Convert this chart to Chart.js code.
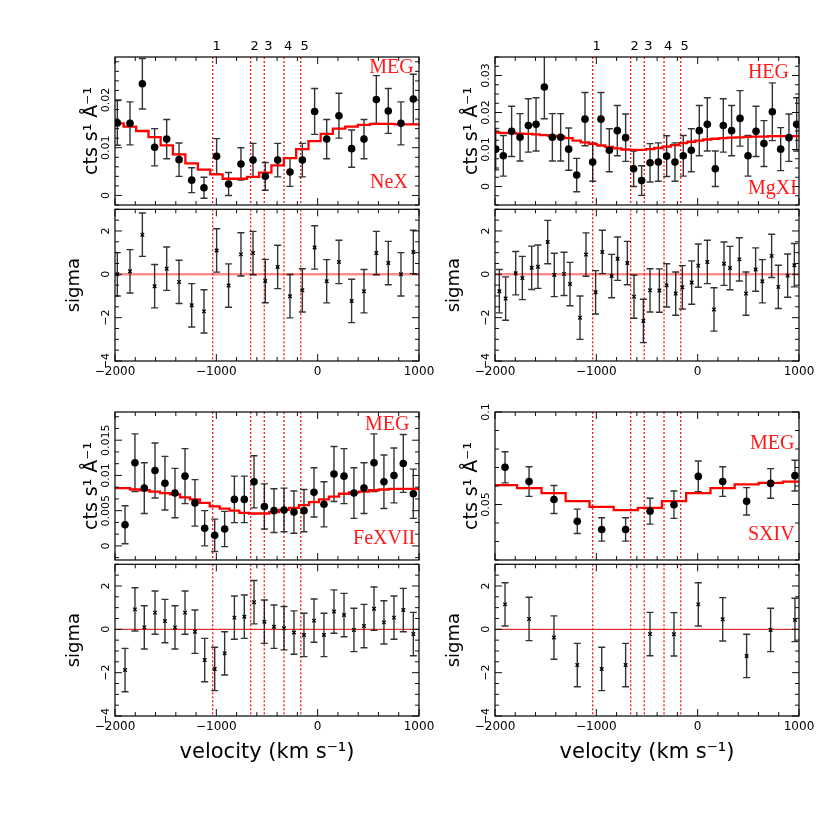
<!DOCTYPE html>
<html>
<head>
<meta charset="utf-8">
<script src="https://cdn.jsdelivr.net/npm/chart.js@4.4.1/dist/chart.umd.min.js"></script>
<style>
  html, body { margin: 0; padding: 0; background: #fff; }
  #wrap { position: relative; width: 830px; height: 830px; }
  #wrap canvas { position: absolute; }
</style>
</head>
<body>
<div id="wrap"></div>
<script>
// absorption components (km/s) and their labels
const lineVel = [-1036, -661, -527, -332, -167]
const lineLabels = ['1', '2', '3', '4', '5']

const velTicks = [-2000, -1000, 0, 1000]
const sigmaTicks = [-4, -2, 0, 2]

// Ne X, MEG
const neVel = [-1977, -1852, -1730, -1609, -1490, -1368, -1243, -1122, -997, -879, -757, -638, -517, -395, -273, -151, -30, 89, 210, 335, 457, 579, 697, 822, 944]
const neFlux = [0.0152, 0.0151, 0.0234, 0.0101, 0.0118, 0.0075, 0.0032, 0.0016, 0.0082, 0.0024, 0.0066, 0.0074, 0.0040, 0.0074, 0.0049, 0.0074, 0.0176, 0.0118, 0.0167, 0.0098, 0.0118, 0.0201, 0.0177, 0.0151, 0.0202]
const neErr = [0.0047, 0.0045, 0.0053, 0.0039, 0.0041, 0.0035, 0.0026, 0.0022, 0.0037, 0.0024, 0.0034, 0.0035, 0.0029, 0.0035, 0.0030, 0.0035, 0.0048, 0.0041, 0.0047, 0.0039, 0.0041, 0.0050, 0.0047, 0.0045, 0.0052]
const neModel = [0.0151, 0.0144, 0.0135, 0.0122, 0.0105, 0.0086, 0.0067, 0.0054, 0.0044, 0.0035, 0.0035, 0.0039, 0.0048, 0.0063, 0.0078, 0.0097, 0.0114, 0.0129, 0.0140, 0.0144, 0.0148, 0.0150, 0.0150, 0.0149, 0.0149]
const neSigma = [0.0, 0.14, 1.83, -0.55, 0.26, -0.35, -1.43, -1.71, 1.10, -0.52, 0.92, 0.98, -0.31, 0.34, -1.01, -0.74, 1.24, -0.32, 0.57, -1.23, -0.78, 0.98, 0.52, 0.0, 1.03]
const neTicks = [0, 0.01, 0.02]

// Mg XI, HEG
const mgVel = [-1993, -1918, -1836, -1753, -1671, -1595, -1513, -1434, -1352, -1273, -1194, -1112, -1036, -954, -872, -793, -711, -632, -553, -470, -388, -306, -224, -142, -63, 16, 95, 174, 253, 335, 418, 497, 576, 654, 737, 819, 901, 977]
const mgFlux = [0.0101, 0.0083, 0.0149, 0.0133, 0.0165, 0.0168, 0.0269, 0.0133, 0.0133, 0.0101, 0.0031, 0.0182, 0.0066, 0.0182, 0.0098, 0.0151, 0.0132, 0.0048, 0.0016, 0.0064, 0.0066, 0.0082, 0.0066, 0.0083, 0.0098, 0.0151, 0.0168, 0.0048, 0.0165, 0.0151, 0.0184, 0.0083, 0.0149, 0.0116, 0.0202, 0.0101, 0.0132, 0.0168]
const mgErr = [0.0056, 0.0055, 0.0068, 0.0064, 0.0072, 0.0072, 0.0086, 0.0064, 0.0064, 0.0057, 0.0045, 0.0072, 0.0052, 0.0072, 0.0058, 0.0068, 0.0064, 0.0048, 0.0040, 0.0052, 0.0052, 0.0055, 0.0052, 0.0055, 0.0058, 0.0068, 0.0072, 0.0048, 0.0072, 0.0068, 0.0075, 0.0055, 0.0068, 0.0062, 0.0078, 0.0058, 0.0064, 0.0072]
const mgModel = [0.0146, 0.0145, 0.0144, 0.0143, 0.0142, 0.0141, 0.0139, 0.0137, 0.0135, 0.0131, 0.0124, 0.0119, 0.0115, 0.0111, 0.0107, 0.0103, 0.0100, 0.0099, 0.0099, 0.0101, 0.0104, 0.0108, 0.0112, 0.0117, 0.0121, 0.0124, 0.0127, 0.0129, 0.0131, 0.0132, 0.0133, 0.0134, 0.0135, 0.0135, 0.0136, 0.0136, 0.0136, 0.0136]
const mgResVel = [-1957, -1895, -1796, -1730, -1638, -1576, -1480, -1415, -1319, -1260, -1161, -1102, -1007, -941, -849, -790, -694, -628, -536, -470, -378, -306, -217, -151, -59, 6, 95, 161, 260, 319, 411, 477, 572, 638, 730, 796, 888, 954]
const mgSigma = [-0.78, -1.12, 0.05, -0.17, 0.30, 0.35, 1.49, -0.03, 0.02, -0.45, -2.0, 0.91, -0.83, 1.03, -0.08, 0.72, 0.52, -1.03, -2.15, -0.74, -0.75, -0.51, -0.89, -0.60, -0.38, 0.40, 0.57, -1.62, 0.49, 0.29, 0.69, -0.89, 0.22, -0.32, 0.85, -0.58, -0.06, 0.42]
const mgTicks = [0, 0.01, 0.02, 0.03]

// Fe XVII, MEG
const feVel = [-1901, -1803, -1711, -1605, -1507, -1408, -1309, -1211, -1115, -1016, -918, -822, -724, -628, -526, -431, -332, -234, -135, -36, 62, 161, 260, 358, 457, 556, 654, 753, 845, 944]
const feFlux = [0.0030, 0.0118, 0.0082, 0.0107, 0.0089, 0.0075, 0.0099, 0.0061, 0.0025, 0.0015, 0.0024, 0.0066, 0.0066, 0.0091, 0.0056, 0.0050, 0.0051, 0.0048, 0.0050, 0.0076, 0.0059, 0.0102, 0.0099, 0.0075, 0.0082, 0.0118, 0.0091, 0.0100, 0.0117, 0.0074]
const feErr = [0.0027, 0.0041, 0.0036, 0.0039, 0.0038, 0.0035, 0.0039, 0.0033, 0.0025, 0.0023, 0.0025, 0.0033, 0.0033, 0.0037, 0.0032, 0.0031, 0.0031, 0.0030, 0.0030, 0.0035, 0.0032, 0.0039, 0.0039, 0.0036, 0.0036, 0.0041, 0.0038, 0.0039, 0.0041, 0.0035]
const feModel = [0.0082, 0.0080, 0.0079, 0.0077, 0.0075, 0.0073, 0.0069, 0.0066, 0.0061, 0.0056, 0.0053, 0.0050, 0.0047, 0.0046, 0.0046, 0.0048, 0.0051, 0.0054, 0.0058, 0.0062, 0.0066, 0.0070, 0.0074, 0.0076, 0.0077, 0.0079, 0.0080, 0.0081, 0.0081, 0.0081]
const feSigma = [-1.88, 0.92, 0.09, 0.77, 0.38, 0.09, 0.77, -0.11, -1.42, -1.83, -1.11, 0.54, 0.58, 1.25, 0.35, 0.12, 0.05, -0.15, -0.26, 0.40, -0.26, 0.82, 0.66, -0.03, 0.15, 0.95, 0.32, 0.54, 0.89, -0.22]
const feTicks = [0, 0.005, 0.01, 0.015]

// S XIV, MEG
const sVel = [-1901, -1664, -1418, -1188, -947, -711, -470, -234, 6, 247, 483, 720, 960]
const sFlux = [0.0701, 0.0624, 0.0527, 0.0409, 0.0365, 0.0365, 0.0464, 0.0499, 0.0652, 0.0624, 0.0517, 0.0614, 0.0656]
const sErr = [0.0084, 0.0080, 0.0076, 0.0066, 0.0063, 0.0063, 0.0070, 0.0074, 0.0083, 0.0080, 0.0074, 0.0080, 0.0083]
const sModel = [0.0605, 0.0588, 0.0562, 0.0518, 0.0487, 0.0470, 0.0482, 0.0518, 0.0562, 0.0588, 0.0609, 0.0617, 0.0624]
const sSigma = [1.15, 0.48, -0.38, -1.65, -1.83, -1.65, -0.22, -0.23, 1.15, 0.46, -1.23, -0.03, 0.43]
const sTicks = [0.05, 0.1]

// layout (px)
const AX = 60, PW = 304, PH = 152, PR = 25
const COL_LEFT = [115, 495]
const ROW_TOP = [57, 412]
const SANS = "'DejaVu Sans', sans-serif"
const SERIF = "'Liberation Serif', 'DejaVu Serif', serif"
const VMIN = -2000, VMAX = 1000

const panels = [
  { col: 0, row: 0, vel: neVel, flux: neFlux, err: neErr, model: neModel, resVel: neVel, sigma: neSigma,
    yMin: -0.002, yMax: 0.029, yTicks: neTicks, yMinor: 0.002,
    tags: [['MEG', 0.836, 0.072], ['NeX', 0.839, 0.849]] },
  { col: 1, row: 0, vel: mgVel, flux: mgFlux, err: mgErr, model: mgModel, resVel: mgResVel, sigma: mgSigma,
    yMin: -0.005, yMax: 0.035, yTicks: mgTicks, yMinor: 0.0025,
    tags: [['HEG', 0.832, 0.105], ['MgXI', 0.832, 0.888]] },
  { col: 0, row: 1, vel: feVel, flux: feFlux, err: feErr, model: feModel, resVel: feVel, sigma: feSigma,
    yMin: -0.002, yMax: 0.019, yTicks: feTicks, yMinor: 0.005 / 3,
    tags: [['MEG', 0.822, 0.086], ['FeXVII', 0.783, 0.855]] },
  { col: 1, row: 1, vel: sVel, flux: sFlux, err: sErr, model: sModel, resVel: sVel, sigma: sSigma,
    yMin: 0.02, yMax: 0.1, yTicks: sTicks, yMinor: 0.01,
    tags: [['MEG', 0.839, 0.217], ['SXIV', 0.832, 0.829]] }
]

const fmt = v => String(v).replace('-', '\u2212')

// inward ticks on all four sides, like the old plotting package
function drawTicks(ctx, a, scale, majors, step, horizontal) {
  const n0 = Math.ceil(scale.min / step - 1e-6)
  const n1 = Math.floor(scale.max / step + 1e-6)
  ctx.beginPath()
  for (let n = n0; n <= n1; n++) {
    const v = n * step
    const major = majors.some(m => Math.abs(m - v) < step * 1e-3)
    const len = major ? 7 : 4
    const p = scale.getPixelForValue(v)
    if (horizontal) {
      ctx.moveTo(p, a.bottom); ctx.lineTo(p, a.bottom - len)
      ctx.moveTo(p, a.top); ctx.lineTo(p, a.top + len)
    } else {
      ctx.moveTo(a.left, p); ctx.lineTo(a.left + len, p)
      ctx.moveTo(a.right, p); ctx.lineTo(a.right - len, p)
    }
  }
  ctx.stroke()
}

function pgPlugin(cfg) {
  return {
    id: 'pg',
    beforeDatasetsDraw(chart) {
      const { ctx, chartArea: a, scales: { x, y } } = chart
      ctx.save()
      ctx.beginPath()
      ctx.rect(a.left, a.top, a.right - a.left, a.bottom - a.top)
      ctx.clip()

      if (cfg.zero) {
        const py = y.getPixelForValue(0)
        ctx.strokeStyle = cfg.zero.color
        ctx.lineWidth = cfg.zero.width
        ctx.beginPath(); ctx.moveTo(a.left, py); ctx.lineTo(a.right, py); ctx.stroke()
      }

      // dotted component markers
      ctx.strokeStyle = 'rgba(255,0,0,0.95)'
      ctx.lineWidth = 1.3
      ctx.setLineDash([2, 2])
      lineVel.forEach(v => {
        const px = x.getPixelForValue(v)
        ctx.beginPath(); ctx.moveTo(px, a.top); ctx.lineTo(px, a.bottom); ctx.stroke()
      })
      ctx.setLineDash([])

      // error bars
      ctx.strokeStyle = 'rgba(0,0,0,0.8)'
      ctx.lineWidth = 1.4
      chart.data.datasets.forEach(ds => {
        if (!ds.errors && !ds.errConst) return
        ds.data.forEach((p, j) => {
          const e = ds.errors ? ds.errors[j] : ds.errConst
          const px = x.getPixelForValue(p.x)
          const t = y.getPixelForValue(p.y + e)
          const b = y.getPixelForValue(p.y - e)
          ctx.beginPath()
          ctx.moveTo(px, t); ctx.lineTo(px, b)
          ctx.moveTo(px - 3.5, t); ctx.lineTo(px + 3.5, t)
          ctx.moveTo(px - 3.5, b); ctx.lineTo(px + 3.5, b)
          ctx.stroke()
        })
      })
      ctx.restore()
    },
    afterDraw(chart) {
      const { ctx, chartArea: a, scales: { x, y } } = chart
      ctx.save()
      ctx.strokeStyle = '#111'
      ctx.lineWidth = 1
      drawTicks(ctx, a, x, velTicks, 200, true)
      drawTicks(ctx, a, y, cfg.yTicks, cfg.yMinor, false)
      ctx.lineWidth = 1.2
      ctx.strokeStyle = '#000'
      ctx.strokeRect(a.left, a.top, a.right - a.left, a.bottom - a.top)

      // rotated y tick labels
      ctx.fillStyle = '#000'
      ctx.font = '11px ' + SANS
      ctx.textAlign = 'center'
      ctx.textBaseline = 'middle'
      cfg.yTicks.forEach(v => {
        ctx.save()
        ctx.translate(a.left - 9, y.getPixelForValue(v))
        ctx.rotate(-Math.PI / 2)
        ctx.fillText(fmt(v), 0, 0)
        ctx.restore()
      })

      if (cfg.numbers) {
        ctx.font = '13px ' + SANS
        lineVel.forEach((v, i) => {
          ctx.fillText(lineLabels[i], x.getPixelForValue(v) + 4, a.top - 10)
        })
      }

      if (cfg.tags) {
        ctx.beginPath()
        ctx.rect(a.left, a.top, a.right - a.left, a.bottom - a.top)
        ctx.clip()
        ctx.fillStyle = '#ff1a1a'
        ctx.font = '20px ' + SERIF
        ctx.textAlign = 'left'
        cfg.tags.forEach(([t, fx, fy]) => {
          ctx.fillText(t, a.left + fx * (a.right - a.left), a.top + fy * (a.bottom - a.top))
        })
      }
      ctx.restore()
    }
  }
}

function addChart(box) {
  const c = document.createElement('canvas')
  c.width = AX + PW + PR
  c.height = box.padTop + PH + box.xH
  c.style.left = (box.left - AX) + 'px'
  c.style.top = (box.top - box.padTop) + 'px'
  document.getElementById('wrap').appendChild(c)

  new Chart(c, {
    type: 'scatter',
    data: { datasets: box.datasets },
    options: {
      responsive: false,
      animation: false,
      devicePixelRatio: 1,
      events: [],
      layout: { padding: { top: box.padTop, right: PR, bottom: 0, left: 0 } },
      plugins: { legend: { display: false }, tooltip: { enabled: false } },
      scales: {
        x: {
          type: 'linear', min: VMIN, max: VMAX,
          grid: { display: false, drawTicks: false },
          border: { display: false },
          afterBuildTicks: s => { s.ticks = velTicks.map(v => ({ value: v })) },
          ticks: {
            display: box.xLabels, padding: 4, maxRotation: 0, autoSkip: false,
            color: '#000', font: { family: SANS, size: 12 }, callback: v => fmt(v)
          },
          title: {
            display: box.xTitle, text: 'velocity (km s\u207B\u00B9)', color: '#000',
            font: { family: SANS, size: 21 }, padding: { top: 0, bottom: 6 }
          },
          afterFit: s => { s.height = box.xH; s.paddingLeft = 0; s.paddingRight = 0 }
        },
        y: {
          type: 'linear', min: box.yMin, max: box.yMax,
          grid: { display: false, drawTicks: false },
          border: { display: false },
          ticks: { display: false },
          title: {
            display: true, text: box.yTitle, color: '#000',
            font: { family: SANS, size: box.yTitleSize }, padding: { top: box.yTitlePad, bottom: 0 }
          },
          afterFit: s => { s.width = AX; s.paddingTop = 0; s.paddingBottom = 0 }
        }
      }
    },
    plugins: [pgPlugin(box.pg)]
  })
}

panels.forEach(p => {
  const left = COL_LEFT[p.col]
  const top = ROW_TOP[p.row]
  const last = p.model.length - 1
  // model is stepped across the full velocity window
  const modelPts = [{ x: VMIN, y: p.model[0] }]
    .concat(p.vel.map((v, i) => ({ x: v, y: p.model[i] })))
    .concat([{ x: VMAX, y: p.model[last] }])

  addChart({
    left, top, padTop: p.row === 0 ? 25 : 10, xH: 0,
    xLabels: false, xTitle: false,
    yMin: p.yMin, yMax: p.yMax,
    yTitle: 'cts s\u00B9 \u00C5\u207B\u00B9', yTitleSize: 19, yTitlePad: 26,
    pg: { yTicks: p.yTicks, yMinor: p.yMinor, numbers: p.row === 0, tags: p.tags },
    datasets: [
      {
        data: p.vel.map((v, i) => ({ x: v, y: p.flux[i] })),
        errors: p.err,
        pointRadius: 3.8, pointBackgroundColor: '#000', pointBorderWidth: 0,
        order: 0, clip: 0
      },
      {
        data: modelPts, showLine: true, stepped: 'middle',
        borderColor: '#ff0000', borderWidth: 2.3, pointRadius: 0,
        order: 1, clip: 0
      }
    ]
  })

  addChart({
    left, top: top + PH, padTop: 5, xH: p.row === 0 ? 25 : 55,
    xLabels: true, xTitle: p.row === 1,
    yMin: -4, yMax: 3,
    yTitle: 'sigma', yTitleSize: 18, yTitlePad: 9,
    pg: {
      yTicks: sigmaTicks, yMinor: 0.5,
      zero: p.row === 0 ? { color: 'rgba(255,0,0,0.45)', width: 2.5 } : { color: '#e00000', width: 1 }
    },
    datasets: [{
      data: p.resVel.map((v, i) => ({ x: v, y: p.sigma[i] })),
      errConst: 1,
      pointStyle: 'crossRot', pointRadius: 2.5,
      pointBorderColor: '#000', pointBorderWidth: 1.3,
      clip: 0
    }]
  })
})
</script>
</body>
</html>
